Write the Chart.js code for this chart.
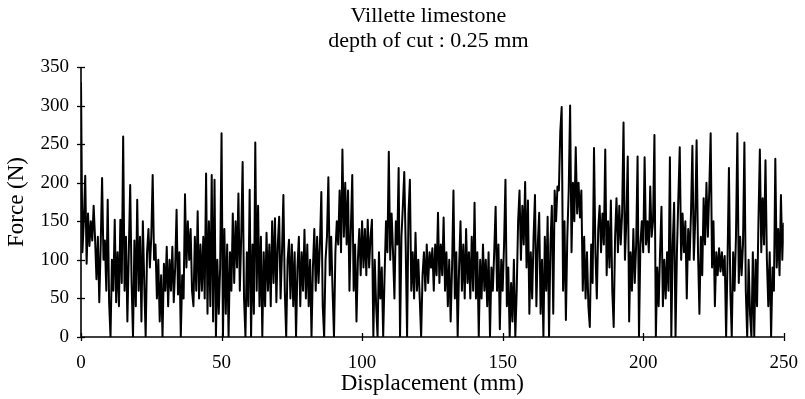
<!DOCTYPE html>
<html>
<head>
<meta charset="utf-8">
<script src="https://cdn.jsdelivr.net/npm/chart.js@4.4.0/dist/chart.umd.min.js"></script>
<style>
  html, body { margin: 0; padding: 0; background: #fff; }
  #wrap { width: 805px; height: 399px; }
</style>
</head>
<body>
<div id="wrap"><canvas id="force"></canvas></div>
<script>
// title text
const titleLines = ['Villette limestone', 'depth of cut : 0.25 mm'];
const xTitle = 'Displacement (mm)';
const yTitle = 'Force (N)';

// tick values
const xTicks = [0, 50, 100, 150, 200, 250];
const yTicks = [0, 50, 100, 150, 200, 250, 300, 350];

// sampling step of the trace (mm)
const stepMm = 0.5;

// force (N), every 0.5 mm, 0 -> 250 mm
const force = [
  // 0 - 10
  330, 110, 150, 209, 95, 160, 118, 150, 125, 170, 128, 75, 130, 45, 118, 206, 100, 125, 60, 178,
  // 10 - 20
  45, 0, 100, 60, 152, 45, 110, 40, 152, 70, 260, 60, 130, 20, 110, 197, 70, 0, 125, 40,
  // 20 - 30
  178, 60, 130, 20, 150, 70, 0, 110, 140, 90, 130, 210, 100, 120, 50, 100, 20, 80, 0, 95,
  // 30 - 40
  60, 117, 40, 100, 60, 117, 45, 90, 165, 55, 110, 0, 80, 50, 185, 90, 150, 100, 140, 60,
  // 40 - 50
  40, 130, 60, 163, 50, 120, 60, 130, 50, 212, 30, 150, 40, 210, 20, 204, 0, 100, 30, 90,
  // 50 - 60
  264, 0, 140, 30, 120, 0, 110, 60, 160, 70, 150, 90, 186, 60, 130, 227, 50, 0, 110, 40,
  // 60 - 70
  191, 0, 120, 30, 252, 60, 170, 40, 130, 0, 110, 40, 135, 60, 120, 40, 150, 70, 154, 45,
  // 70 - 80
  120, 156, 50, 110, 184, 60, 0, 100, 126, 50, 120, 40, 110, 0, 90, 130, 40, 110, 60, 139,
  // 80 - 90
  50, 120, 40, 100, 0, 90, 140, 60, 130, 70, 120, 188, 40, 0, 100, 130, 207, 80, 130, 60,
  // 90 - 100
  0, 110, 150, 120, 190, 110, 243, 130, 200, 120, 190, 60, 140, 210, 60, 120, 20, 100, 140, 80,
  // 100 - 110
  150, 90, 140, 80, 152, 90, 130, 152, 0, 100, 40, 0, 110, 50, 90, 0, 80, 150, 110, 240,
  // 110 - 120
  100, 160, 110, 50, 150, 120, 219, 0, 130, 170, 214, 120, 0, 160, 204, 60, 110, 50, 135, 60,
  // 120 - 130
  100, 50, 0, 80, 110, 60, 120, 70, 110, 90, 115, 60, 120, 80, 161, 70, 120, 80, 155, 60,
  // 130 - 140
  110, 40, 100, 20, 90, 190, 50, 110, 0, 90, 150, 60, 120, 50, 140, 70, 110, 50, 130, 60,
  // 140 - 150
  174, 50, 110, 0, 100, 50, 120, 60, 100, 40, 110, 0, 90, 60, 110, 169, 60, 120, 10, 100,
  // 150 - 160
  60, 120, 204, 40, 90, 0, 70, 20, 100, 0, 60, 150, 190, 100, 170, 120, 201, 90, 177, 30,
  // 160 - 170
  110, 50, 130, 184, 40, 120, 161, 30, 100, 0, 130, 60, 156, 0, 120, 170, 30, 190, 150, 195,
  // 170 - 180
  190, 266, 298, 60, 150, 22, 130, 190, 300, 110, 200, 150, 246, 160, 200, 155, 190, 60, 130, 50,
  // 180 - 190
  110, 40, 13, 120, 70, 245, 110, 50, 140, 170, 110, 160, 120, 243, 80, 150, 90, 177, 60, 13,
  // 190 - 200
  130, 180, 110, 170, 120, 160, 278, 100, 150, 234, 20, 110, 60, 140, 70, 120, 234, 0, 120, 150,
  // 200 - 210
  110, 233, 120, 150, 110, 195, 130, 150, 262, 0, 90, 40, 110, 169, 40, 100, 50, 110, 60, 233,
  // 210 - 220
  0, 120, 174, 0, 110, 180, 246, 100, 160, 110, 150, 50, 140, 100, 160, 248, 100, 150, 255, 110,
  // 220 - 230
  30, 130, 80, 180, 120, 200, 130, 190, 264, 90, 150, 40, 110, 80, 115, 85, 110, 80, 105, 0,
  // 230 - 240
  100, 219, 60, 0, 110, 60, 130, 264, 70, 130, 80, 120, 252, 60, 0, 100, 30, 0, 110, 0,
  // 240 - 250
  100, 40, 150, 243, 110, 180, 120, 229, 100, 40, 110, 0, 90, 60, 231, 90, 140, 80, 184, 100,
  148
];

const points = force.map((f, i) => ({ x: i * stepMm, y: f }));

const serif = '"Liberation Serif", "Times New Roman", serif';

// crossing tick marks, axis lines and the two-line title
const decor = {
  id: 'decor',
  afterDraw: (chart) => {
    const ctx = chart.ctx;
    const xs = chart.scales.x;
    const ys = chart.scales.y;
    const area = chart.chartArea;
    ctx.save();
    ctx.strokeStyle = '#000';
    ctx.lineWidth = 1.6;
    ctx.beginPath();
    ctx.moveTo(area.left, area.top);
    ctx.lineTo(area.left, area.bottom);
    ctx.lineTo(area.right, area.bottom);
    ctx.stroke();
    ctx.lineWidth = 1.3;
    yTicks.forEach(v => {
      const py = Math.round(ys.getPixelForValue(v)) + 0.5;
      ctx.beginPath();
      ctx.moveTo(area.left - 4, py);
      ctx.lineTo(area.left + 4, py);
      ctx.stroke();
    });
    xTicks.forEach(v => {
      const px = Math.round(xs.getPixelForValue(v)) + 0.5;
      ctx.beginPath();
      ctx.moveTo(px, area.bottom - 4);
      ctx.lineTo(px, area.bottom + 4);
      ctx.stroke();
    });
    ctx.fillStyle = '#000';
    ctx.font = '22px ' + serif;
    ctx.textAlign = 'center';
    ctx.textBaseline = 'middle';
    const cx = (area.left + area.right) / 2;
    ctx.fillText(titleLines[0], cx - 4, 16);
    ctx.fillText(titleLines[1], cx - 4, 41);
    ctx.restore();
  }
};

const config = {
  type: 'line',
  data: {
    datasets: [{
      data: points,
      borderColor: '#000',
      borderWidth: 2,
      borderJoinStyle: 'round',
      pointRadius: 0,
      tension: 0,
      fill: false
    }]
  },
  options: {
    responsive: false,
    animation: false,
    events: [],
    layout: { padding: { top: 67, right: 18, left: 0, bottom: 0 } },
    plugins: {
      legend: { display: false },
      tooltip: { enabled: false }
    },
    scales: {
      x: {
        type: 'linear',
        min: 0,
        max: 250,
        afterBuildTicks: (s) => { s.ticks = xTicks.map(v => ({ value: v })); },
        afterFit: (s) => { s.height = 62; },
        border: { display: false },
        grid: { display: false },
        ticks: { color: '#000', padding: 7, maxRotation: 0, font: { family: serif, size: 19 } },
        title: { display: true, text: xTitle, color: '#000', padding: { top: 0, bottom: 1 }, font: { family: serif, size: 23 } }
      },
      y: {
        min: 0,
        max: 350,
        afterBuildTicks: (s) => { s.ticks = yTicks.map(v => ({ value: v })); },
        afterFit: (s) => { s.width = 81; },
        border: { display: false },
        grid: { display: false },
        ticks: { color: '#000', padding: 4, font: { family: serif, size: 19 } },
        title: { display: true, text: yTitle, color: '#000', padding: { top: 3, bottom: 0 }, font: { family: serif, size: 23 } }
      }
    }
  },
  plugins: [decor]
};

const canvas = document.getElementById('force');
canvas.width = 805;
canvas.height = 399;
const chart = new Chart(canvas, config);
</script>
</body>
</html>
